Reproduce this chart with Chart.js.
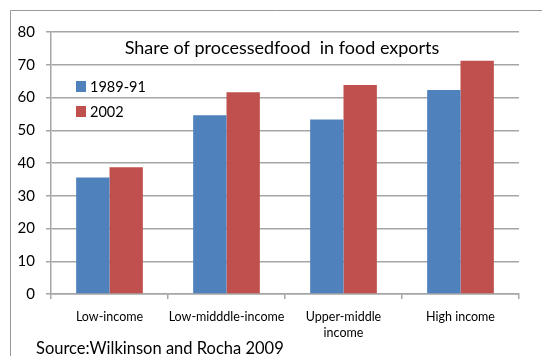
<!DOCTYPE html>
<html>
<head>
<meta charset="utf-8">
<script src="https://cdn.jsdelivr.net/npm/chart.js@4"></script>
<style>
    body { margin: 0; background: #fff; }
    canvas { display: block; }
</style>
</head>
<body>
<canvas id="exportsChart" width="542" height="356"></canvas>
<script>
const categories = ['Low-income', 'Low-midddle-income', ['Upper-middle', 'income'], 'High income'];
const series1989 = [35.6, 54.6, 53.3, 62.3];
const series2002 = [38.7, 61.6, 63.8, 71.2];
const yTicks = [0, 10, 20, 30, 40, 50, 60, 70, 80];

const gridGray = '#a6a6a6';
const fontName = 'Lato, "Open Sans", sans-serif';

// frame, title, legend and source text drawn on the canvas
const overlay = {
    id: 'overlay',
    beforeDraw(chart) {
        const ctx = chart.ctx;
        ctx.save();
        ctx.strokeStyle = '#999';
        ctx.lineWidth = 1;
        ctx.beginPath();
        ctx.moveTo(10.5, 356);
        ctx.lineTo(10.5, 10.5);
        ctx.lineTo(542, 10.5);
        ctx.stroke();
        ctx.restore();
    },
    afterDraw(chart) {
        const ctx = chart.ctx;
        ctx.save();
        ctx.fillStyle = '#000';
        ctx.textBaseline = 'middle';

        ctx.font = '18px ' + fontName;
        ctx.textAlign = 'center';
        ctx.fillText('Share of processedfood  in food exports', 282, 48);

        ctx.textAlign = 'left';
        ctx.font = '14.5px ' + fontName;
        chart.data.datasets.forEach(function (ds, i) {
            const y = 87 + i * 25;
            ctx.fillStyle = ds.backgroundColor;
            ctx.fillRect(76, y - 6, 10, 11);
            ctx.fillStyle = '#000';
            ctx.fillText(ds.label, 90, y);
        });

        ctx.font = '16.5px ' + fontName;
        ctx.fillText('Source:Wilkinson and Rocha 2009', 36, 349);
        ctx.restore();
    }
};

new Chart(document.getElementById('exportsChart'), {
    type: 'bar',
    data: {
        labels: categories,
        datasets: [{
            label: '1989-91',
            data: series1989,
            backgroundColor: '#4F81BD'
        }, {
            label: '2002',
            data: series2002,
            backgroundColor: '#C0504D'
        }]
    },
    options: {
        responsive: false,
        animation: false,
        categoryPercentage: 0.57,
        barPercentage: 1.0,
        layout: {
            padding: { top: 32, right: 23, left: 0, bottom: 0 }
        },
        plugins: {
            legend: { display: false },
            tooltip: { enabled: false }
        },
        scales: {
            x: {
                afterFit: function (scale) { scale.height = 62; },
                grid: {
                    display: true,
                    drawOnChartArea: false,
                    tickLength: 5,
                    color: gridGray,
                    lineWidth: 1.5
                },
                border: { color: gridGray, width: 1.5 },
                ticks: {
                    color: '#000',
                    padding: 10,
                    maxRotation: 0,
                    autoSkip: false,
                    font: { family: fontName, size: 12.5, lineHeight: 1.3 }
                }
            },
            y: {
                min: 0,
                max: 80,
                afterFit: function (scale) { scale.width = 51; },
                afterBuildTicks: function (scale) {
                    scale.ticks = yTicks.map(v => ({ value: v }));
                },
                grid: {
                    color: gridGray,
                    lineWidth: 1.5,
                    tickLength: 5
                },
                border: { color: gridGray, width: 1.5 },
                ticks: {
                    color: '#000',
                    padding: 11,
                    font: { family: fontName, size: 15 }
                }
            }
        }
    },
    plugins: [overlay]
});
</script>
</body>
</html>
